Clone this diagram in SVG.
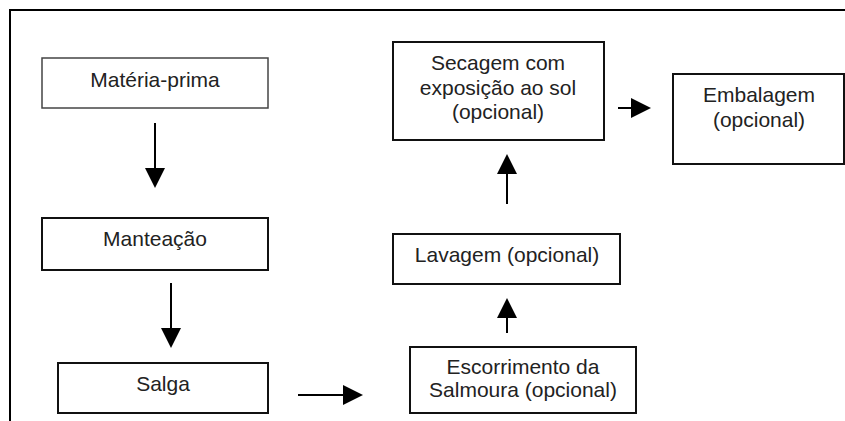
<svg xmlns="http://www.w3.org/2000/svg" width="845" height="421" viewBox="0 0 845 421">
<style>
.box{fill:#fff;stroke:#111;stroke-width:2}
.thin{stroke:#444;stroke-width:1.5}
.t{font-family:"Liberation Sans",Arial,sans-serif;font-size:21px;fill:#222;text-anchor:middle}
.c{stroke:#000;stroke-width:2;fill:none;marker-end:url(#ah)}
</style>
<defs>
<marker id="ah" markerUnits="userSpaceOnUse" markerWidth="20" markerHeight="20" refX="4" refY="10" orient="auto">
<path d="M0,0 L20,10 L0,20 z" fill="#000"/>
</marker>
</defs>
<rect width="845" height="421" fill="#fff"/>
<path d="M10,421 V10 H845" fill="none" stroke="#000" stroke-width="2"/>
<g id="materia-prima">
<rect class="box thin" x="42" y="58" width="226" height="50"/>
<text class="t" x="155" y="87">Matéria-prima</text>
</g>
<g id="manteacao">
<rect class="box" x="42" y="218" width="226" height="52"/>
<text class="t" x="155" y="246">Manteação</text>
</g>
<g id="salga">
<rect class="box" x="58" y="363" width="210" height="50"/>
<text class="t" x="163" y="391">Salga</text>
</g>
<g id="escorrimento">
<rect class="box" x="410" y="347" width="226" height="66"/>
<text class="t" x="523" y="374">Escorrimento da</text>
<text class="t" x="523" y="397">Salmoura (opcional)</text>
</g>
<g id="lavagem">
<rect class="box" x="393" y="234" width="227" height="50"/>
<text class="t" x="507" y="262">Lavagem (opcional)</text>
</g>
<g id="secagem">
<rect class="box" x="393" y="42" width="211" height="98"/>
<text class="t" x="498" y="70">Secagem com</text>
<text class="t" x="498" y="95">exposição ao sol</text>
<text class="t" x="498" y="119">(opcional)</text>
</g>
<g id="embalagem">
<rect class="box" x="673" y="74" width="171" height="90"/>
<text class="t" x="759" y="102">Embalagem</text>
<text class="t" x="759" y="127">(opcional)</text>
</g>
<g id="connectors">
<line class="c" x1="155" y1="123" x2="155" y2="172"/>
<line class="c" x1="171" y1="283" x2="171" y2="332"/>
<line class="c" x1="298" y1="395" x2="347" y2="395"/>
<line class="c" x1="507" y1="333" x2="507" y2="314"/>
<line class="c" x1="507" y1="204" x2="507" y2="170"/>
<line class="c" x1="618" y1="108" x2="635" y2="108"/>
</g>
</svg>
